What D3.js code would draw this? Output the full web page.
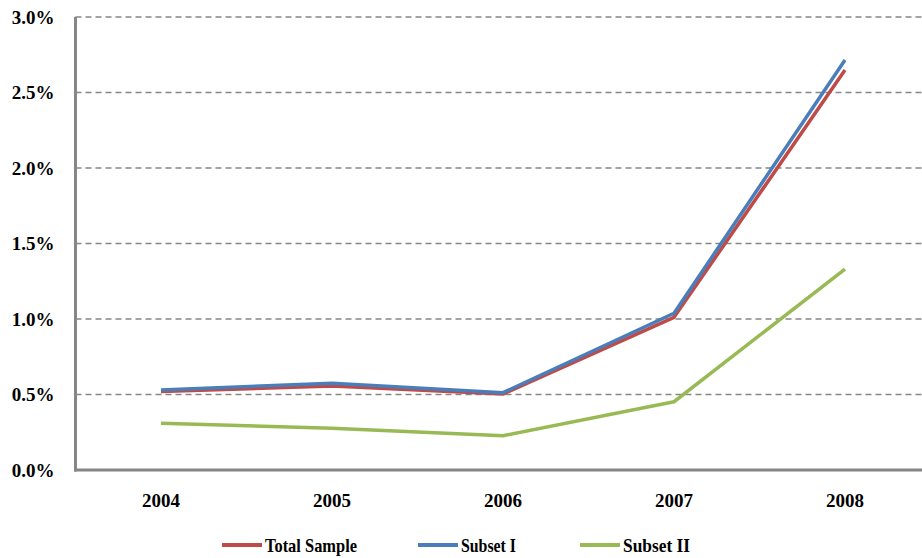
<!DOCTYPE html>
<html>
<head>
<meta charset="utf-8">
<script src="https://cdn.jsdelivr.net/npm/d3@7"></script>
<style>
  html, body { margin: 0; padding: 0; background: #fff; }
  svg { display: block; }
  svg text { font-family: "Liberation Serif", "Times New Roman", "DejaVu Serif", serif !important; font-weight: bold; fill: #000; }
</style>
</head>
<body>
<svg id="chart" width="922" height="558"></svg>
<script>
// Yearly values, in percent
const years = ["2004", "2005", "2006", "2007", "2008"];
const totalSample = [0.52, 0.556, 0.503, 1.011, 2.649];
const subsetI = [0.53, 0.574, 0.512, 1.038, 2.715];
const subsetII = [0.309, 0.276, 0.227, 0.452, 1.331];
const yTicks = [0, 0.5, 1.0, 1.5, 2.0, 2.5, 3.0];

const seriesNames = ["Total Sample", "Subset I", "Subset II"];
const seriesColors = ["#BE4B48", "#4A7EBB", "#98B954"];
const seriesValues = [totalSample, subsetI, subsetII];

const svg = d3.select("#chart");
const plotLeft = 75.5, plotRight = 930.5, plotTop = 17, plotBottom = 470;

const x = d3.scaleBand().domain(years).range([plotLeft, plotRight]);
const y = d3.scaleLinear().domain([0, 3]).range([plotBottom, plotTop]);

// Dashed horizontal gridlines
svg.append("g")
  .selectAll("line")
  .data(yTicks.filter(d => d > 0))
  .join("line")
  .attr("x1", plotLeft).attr("x2", plotRight)
  .attr("y1", d => y(d)).attr("y2", d => y(d))
  .attr("stroke", "#868686")
  .attr("stroke-width", 1.5)
  .attr("stroke-dasharray", "6,4");

// Y axis with percent labels
const yAxis = svg.append("g")
  .attr("transform", `translate(${plotLeft},0)`)
  .call(d3.axisLeft(y).tickValues(yTicks).tickFormat(d => d.toFixed(1) + "%").tickSize(0).tickPadding(21));
yAxis.select(".domain").remove();
yAxis.selectAll("text").style("font-size", "19px");

// X axis with year labels
const xAxis = svg.append("g")
  .attr("transform", `translate(0,${plotBottom})`)
  .call(d3.axisBottom(x).tickSize(0).tickPadding(24));
xAxis.select(".domain").remove();
xAxis.selectAll("text").style("font-size", "19px");

// Axis lines
svg.append("line")
  .attr("x1", plotLeft).attr("x2", plotLeft).attr("y1", plotTop).attr("y2", plotBottom + 1.5)
  .attr("stroke", "#868686").attr("stroke-width", 3);
svg.append("line")
  .attr("x1", plotLeft - 1.5).attr("x2", plotRight).attr("y1", plotBottom).attr("y2", plotBottom)
  .attr("stroke", "#868686").attr("stroke-width", 3);

// Series lines
const line = d3.line()
  .x((d, i) => x(years[i]) + x.bandwidth() / 2)
  .y(d => y(d));

seriesValues.forEach((vals, i) => {
  svg.append("path")
    .datum(vals)
    .attr("d", line)
    .attr("fill", "none")
    .attr("stroke", seriesColors[i])
    .attr("stroke-width", 3.5)
    .attr("stroke-linejoin", "round");
});

// Legend (text is set in a condensed width)
const legendX = [222, 418, 580];
const legendTextWidth = [92, 55, 67];
const legend = svg.append("g");
seriesNames.forEach((name, i) => {
  const g = legend.append("g").attr("transform", `translate(${legendX[i]},545)`);
  g.append("line").attr("x1", 0).attr("x2", 40).attr("y1", 0).attr("y2", 0)
    .attr("stroke", seriesColors[i]).attr("stroke-width", 4);
  g.append("text").attr("x", 43).attr("y", 0).attr("dy", "0.35em")
    .attr("textLength", legendTextWidth[i])
    .attr("lengthAdjust", "spacingAndGlyphs")
    .style("font-size", "19px").text(name);
});
</script>
</body>
</html>
